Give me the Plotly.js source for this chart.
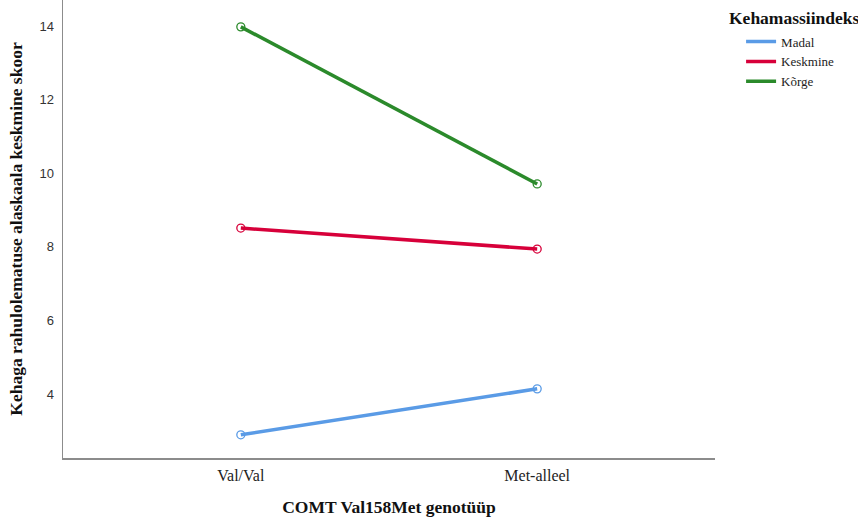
<!DOCTYPE html>
<html><head><meta charset="utf-8">
<script src="https://cdn.plot.ly/plotly-3.0.1.min.js"></script>
<style>body{margin:0;padding:0;background:#fff}#chart{width:858px;height:519px}</style>
</head><body><div id="chart"></div>
<script>
const categories = ["Val/Val", "Met-alleel"];
const seriesNames = ["Madal", "Keskmine", "Kõrge"];
const madal = [2.89, 4.14];
const keskmine = [8.51, 7.94];
const korge = [13.98, 9.71];
const yTicks = [4, 6, 8, 10, 12, 14];
const colors = ["#5a9be6", "#d7003a", "#2b8a2b"];
const legendTitle = "Kehamassiindeks";

const serif = "Liberation Serif, Times New Roman, serif";
const values = [madal, keskmine, korge];
const traces = values.map((v, i) => ({
  x: categories, y: v, name: seriesNames[i], type: "scatter", mode: "lines+markers",
  showlegend: false,
  line: {color: colors[i], width: 3.5},
  marker: {symbol: "circle-open", size: 8, color: colors[i], line: {width: 1.3, color: colors[i]}}
}));
const legendTraces = seriesNames.map((n, i) => ({
  x: [null], y: [null], name: n, type: "scatter", mode: "lines",
  line: {color: colors[i], width: 3.5}, showlegend: true
}));

const layout = {
  width: 858, height: 519,
  margin: {l: 63, r: 143, t: 0, b: 61},
  paper_bgcolor: "#fff", plot_bgcolor: "#fff",
  showlegend: true,
  xaxis: {
    type: "category", range: [-0.6, 1.6], showgrid: false, zeroline: false,
    showline: true, linecolor: "#8c8c8c", linewidth: 1.5, ticks: "",
    tickfont: {family: serif, size: 16, color: "#222"},
    ticklabelstandoff: 2,
    title: {text: "<b>COMT Val158Met genotüüp</b>", font: {family: serif, size: 17.5, color: "#111"}, standoff: 18}
  },
  yaxis: {
    range: [2.26, 14.71], tickvals: yTicks, showgrid: false, zeroline: false,
    showline: true, linecolor: "#8c8c8c", linewidth: 1.5, ticks: "",
    tickfont: {family: "Liberation Sans, Arial, sans-serif", size: 13, color: "#333"},
    ticklabelstandoff: 5,
    title: {text: "<b>Kehaga rahulolematuse alaskaala keskmine skoor</b>", font: {family: serif, size: 17.5, color: "#111"}, standoff: 12}
  },
  legend: {
    x: 1.04, xanchor: "left", y: 0.942, yanchor: "top", yref: "paper",
    bgcolor: "rgba(0,0,0,0)", borderwidth: 0, tracegroupgap: 0,
    font: {family: serif, size: 13, color: "#222"}
  },
  annotations: [{
    text: "<b>" + legendTitle + "</b>", xref: "paper", yref: "paper",
    x: 1.018, y: 1 - 18 / 458, xanchor: "left", yanchor: "middle", showarrow: false,
    font: {family: serif, size: 17.5, color: "#111"}
  }]
};
Plotly.newPlot("chart", traces.concat(legendTraces), layout, {staticPlot: true, displayModeBar: false});
</script></body></html>
